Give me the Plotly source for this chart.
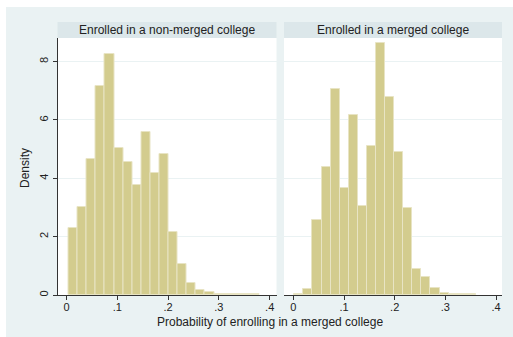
import plotly.graph_objects as go

W, H = 513, 337

# ---- data ----
panel_titles = ["Enrolled in a non-merged college", "Enrolled in a merged college"]
bin_width = 0.0179
start_nonmerged = 0.004
dens_nonmerged = [2.29, 3.00, 4.66, 7.17, 8.25, 5.04, 4.56, 3.77, 5.58, 4.19, 4.83,
                  2.15, 1.06, 0.40, 0.16, 0.11, 0.03, 0.03, 0.02, 0.02, 0.02]
start_merged = 0.002
dens_merged = [0.03, 0.19, 2.57, 4.40, 7.05, 3.68, 6.17, 3.05, 5.11, 8.64, 6.78,
               4.91, 2.97, 0.89, 0.61, 0.24, 0.08, 0.03, 0.02, 0.02]
x_ticks = [0, 0.1, 0.2, 0.3, 0.4]
x_ticklabels = ["0", ".1", ".2", ".3", ".4"]
y_ticks = [0, 2, 4, 6, 8]
y_ticklabels = ["0", "2", "4", "6", "8"]

FILL = "rgb(211,204,142)"
EDGE = "rgb(232,228,196)"
OUTER = "#EAF2F3"
STRIP = "#DCE7EA"
GRID = "#EAF2F3"
AX = "#333333"
FONT = "Liberation Sans, Arial, sans-serif"

def px(x):
    return x / W

def py(y):
    return (H - y) / H

fig = go.Figure()

for i, (start, dens) in enumerate([(start_nonmerged, dens_nonmerged), (start_merged, dens_merged)]):
    centers = [start + bin_width * (k + 0.5) for k in range(len(dens))]
    fig.add_trace(go.Bar(
        x=centers, y=dens, width=bin_width,
        marker=dict(color=FILL, line=dict(color=EDGE, width=1)),
        xaxis="x" if i == 0 else "x2", yaxis="y" if i == 0 else "y2",
        showlegend=False, hoverinfo="skip",
    ))

plot_top, plot_bot = 38, 295
dom_y = [py(plot_bot), py(plot_top)]
dom_x1 = [px(57.5), px(276.5)]
dom_x2 = [px(284), px(502)]

xcommon = dict(
    tickmode="array", tickvals=x_ticks, ticktext=x_ticklabels,
    ticks="outside", ticklen=4, tickcolor=AX, showline=True, linecolor=AX, linewidth=1,
    showgrid=False, zeroline=False, tickfont=dict(family=FONT, size=11, color="#222"),
    ticklabelstandoff=-2,
)
fig.update_layout(
    width=W, height=H,
    margin=dict(l=0, r=0, t=0, b=0),
    paper_bgcolor="white", plot_bgcolor="white",
    bargap=0,
    xaxis=dict(domain=dom_x1, range=[(57.5 - 66.5) / 508, (276.5 - 66.5) / 508], anchor="y", **xcommon),
    xaxis2=dict(domain=dom_x2, range=[(284 - 293.3) / 507, (502 - 293.3) / 507], anchor="y2", **xcommon),
    yaxis=dict(domain=dom_y, range=[0, 8.81], anchor="x",
               tickmode="array", tickvals=y_ticks, ticktext=y_ticklabels, tickangle=-90,
               ticks="outside", ticklen=4, tickcolor=AX, showline=True, linecolor=AX, linewidth=1,
               showgrid=True, gridcolor=GRID, gridwidth=1, zeroline=False,
               tickfont=dict(family=FONT, size=11, color="#222")),
    yaxis2=dict(domain=dom_y, range=[0, 8.81], anchor="x2", matches="y",
                tickmode="array", tickvals=y_ticks, showticklabels=False, ticks="",
                showline=False, showgrid=True, gridcolor=GRID, gridwidth=1, zeroline=False),
)

shapes = [
    dict(type="rect", xref="paper", yref="paper", x0=px(6), x1=1, y0=0, y1=py(7),
         fillcolor=OUTER, line=dict(width=0), layer="below"),
]
annotations = []
for dom, title in zip([dom_x1, dom_x2], panel_titles):
    shapes.append(dict(type="rect", xref="paper", yref="paper", x0=dom[0], x1=dom[1],
                       y0=py(38), y1=py(22), fillcolor=STRIP, line=dict(width=0), layer="below"))
    shapes.append(dict(type="rect", xref="paper", yref="paper", x0=dom[0], x1=dom[1],
                       y0=py(295), y1=py(38), fillcolor="white", line=dict(width=0), layer="below"))
    annotations.append(dict(text=title, xref="paper", yref="paper", x=(dom[0] + dom[1]) / 2,
                            y=py(30), xanchor="center", yanchor="middle", showarrow=False,
                            font=dict(family=FONT, size=12, color="#222")))
annotations.append(dict(text="Density", xref="paper", yref="paper", x=px(25), y=py(168),
                        textangle=-90, xanchor="center", yanchor="middle", showarrow=False,
                        font=dict(family=FONT, size=12, color="#222")))
annotations.append(dict(text="Probability of enrolling in a merged college", xref="paper", yref="paper",
                        x=px(270), y=py(322), xanchor="center", yanchor="middle", showarrow=False,
                        font=dict(family=FONT, size=12, color="#222")))
fig.update_layout(shapes=shapes, annotations=annotations)

fig.write_html("out.html", config={"displayModeBar": False},
               post_script="document.body.style.margin='0';document.body.style.overflow='hidden';")
